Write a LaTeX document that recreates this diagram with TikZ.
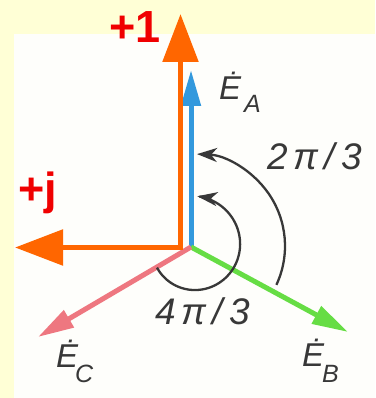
\documentclass[tikz,border=0pt]{standalone}
\usepackage{fontspec}
\setmainfont{Liberation Sans}
\usetikzlibrary{arrows.meta}
\definecolor{bgyellow}{HTML}{FFFFD6}
\definecolor{paper}{HTML}{FEFEFB}
\definecolor{axisorange}{HTML}{FF6600}
\definecolor{labelred}{HTML}{F00000}
\definecolor{phaseA}{HTML}{3399DD}
\definecolor{phaseB}{HTML}{66DD44}
\definecolor{phaseC}{HTML}{EE7780}
\definecolor{ink}{HTML}{383838}
\begin{document}
\begin{tikzpicture}[x=1pt,y=1pt,
  axis/.style={draw=axisorange, line width=5.5pt, line join=miter,
    {Triangle[length=48pt,width=35pt]}-{Triangle[length=48pt,width=35pt]}},
  phasor/.style={line width=5pt, -{Triangle[length=36pt,width=19pt]}},
  anglearc/.style={draw=ink, line width=2.3pt, -{Stealth[length=20pt,width=14pt,inset=6pt]}},
  axlabel/.style={text=labelred, font=\fontsize{45}{45}\selectfont\bfseries, inner sep=0pt, anchor=base west},
  mlabel/.style={text=ink, font=\fontsize{33}{33}\selectfont\itshape, inner sep=0pt, anchor=base west},
  sublabel/.style={text=ink, font=\fontsize{25}{25}\selectfont\itshape, inner sep=0pt, anchor=base west},
  anglelabel/.style={text=ink, font=\fontsize{37}{37}\selectfont\itshape, inner sep=0pt, anchor=base west},
]
\useasboundingbox (0,0) rectangle (375,398);
\fill[bgyellow] (0,0) rectangle (375,398);
\fill[paper] (14,0) rectangle (375,364);

% coordinates
\coordinate (O) at (180.5,150.5);
\coordinate (onetip) at (180.5,384);
\coordinate (jtip) at (15,150.5);
\coordinate (P) at (191,151);
\coordinate (Atip) at (191,328);
\coordinate (Btip) at (348,66);
\coordinate (Ctip) at (38,61);
\coordinate (C0) at (193,152);

% phasors
\draw[phasor, phaseA] (P) -- (Atip);
\draw[phasor, phaseB] (P) -- (Btip);
\draw[phasor, phaseC] (P) -- (Ctip);

% axes
\draw[axis] (jtip) -- (O) -- (onetip);

% angle arcs
\draw[anglearc] ([shift={(-25:92)}]C0) arc[start angle=-25, end angle=87.5, radius=92];
\draw[anglearc] plot[domain=211:445, samples=80, smooth, variable=\t]
  ({193+(42+0.034*(\t-211))*cos(\t)}, {152+(42+0.034*(\t-211))*sin(\t)});

% labels
\node[axlabel] (lone) at (109,355) {+1};
\node[axlabel] (lj) at (18,193) {+j};
\node[mlabel] (lEA) at (219,298) {Ė};
\node[sublabel] (lA) at (244,285) {A};
\node[mlabel] (lEB) at (302,31) {Ė};
\node[sublabel] (lB) at (322,15) {B};
\node[mlabel] (lEC) at (56,30) {Ė};
\node[sublabel] (lC) at (75,15) {C};
\node[anglelabel] (l2) at (267,228) {2\,π\,/\,3};
\node[anglelabel] (l4) at (155,73) {4\,π\,/\,3};
\end{tikzpicture}
\end{document}
